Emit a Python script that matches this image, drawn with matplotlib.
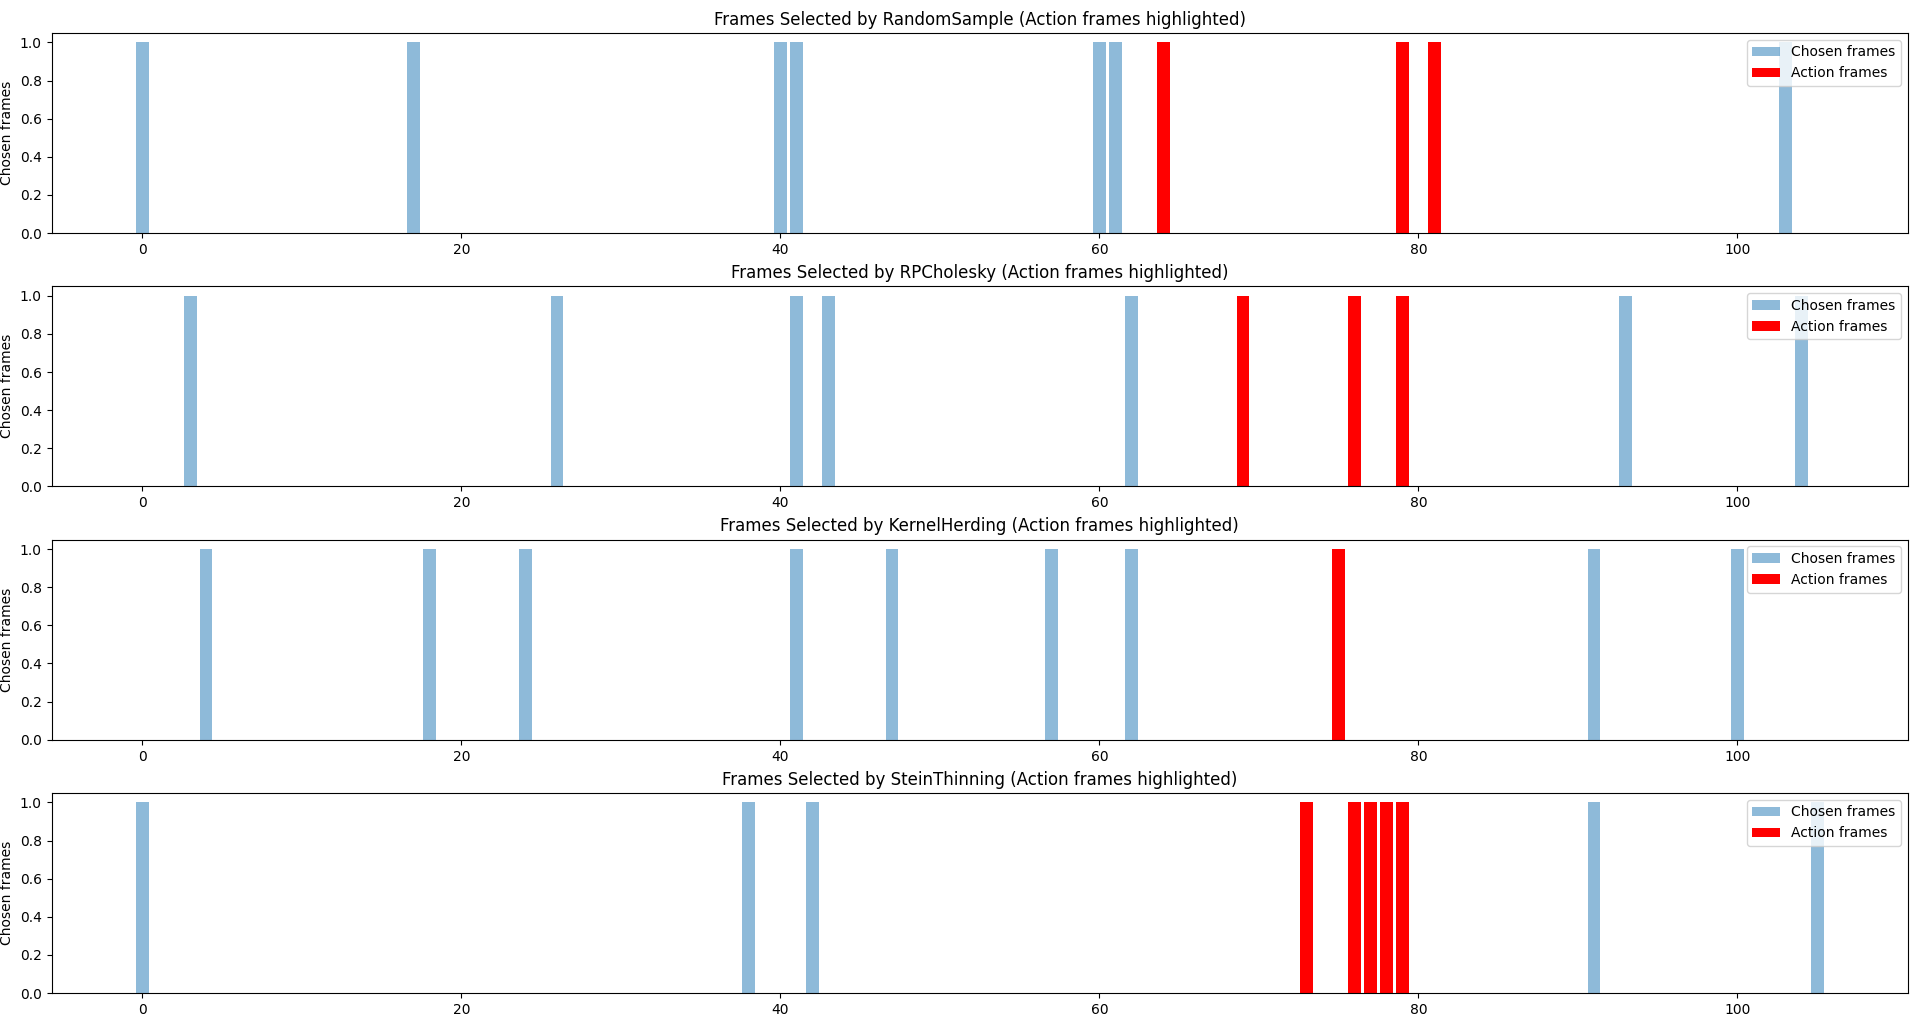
import matplotlib

matplotlib.use("Agg")

import matplotlib.pyplot as plt
import numpy as np


OUTPUT_FILE = "out.png"

N_FRAMES = 106

METHOD_NAMES = [
    "RandomSample",
    "RPCholesky",
    "KernelHerding",
    "SteinThinning",
]

RANDOM_SAMPLE_FRAMES = [0, 17, 40, 41, 60, 61, 64, 79, 81, 103]
RP_CHOLESKY_FRAMES = [3, 26, 41, 43, 62, 69, 76, 79, 93, 104]
KERNEL_HERDING_FRAMES = [4, 18, 24, 41, 47, 57, 62, 75, 91, 100]
STEIN_THINNING_FRAMES = [0, 38, 42, 73, 76, 77, 78, 79, 91, 105]

ACTION_FRAMES = [64, 69, 73, 75, 76, 77, 78, 79, 81]


def frame_mask(frames: list[int]) -> np.ndarray:
    """Turn a list of frame indices into a 0/1 array."""

    mask = np.zeros(N_FRAMES)
    mask[frames] = 1
    return mask


def main() -> None:
    chosen_sets = [
        RANDOM_SAMPLE_FRAMES,
        RP_CHOLESKY_FRAMES,
        KERNEL_HERDING_FRAMES,
        STEIN_THINNING_FRAMES,
    ]

    action_mask = frame_mask(ACTION_FRAMES)
    frame_index = np.arange(N_FRAMES)

    fig, axes = plt.subplots(
        len(METHOD_NAMES),
        1,
        figsize=(19.23, 10.27),
        dpi=100,
    )

    for ax, name, chosen in zip(axes, METHOD_NAMES, chosen_sets):
        chosen_mask = frame_mask(chosen)

        ax.bar(
            frame_index,
            chosen_mask,
            color="C0",
            alpha=0.5,
            label="Chosen frames",
        )

        # Chosen frames that fall inside the action get painted red.
        ax.bar(
            frame_index,
            chosen_mask * action_mask,
            color="red",
            label="Action frames",
        )

        ax.set_title(
            f"Frames Selected by {name} (Action frames highlighted)"
        )
        ax.set_ylabel("Chosen frames")
        ax.legend(loc="upper right")

    fig.subplots_adjust(
        left=0.0268,
        right=0.9922,
        top=0.968,
        bottom=0.033,
        hspace=0.265,
    )

    fig.savefig(OUTPUT_FILE, dpi=100)
    plt.close(fig)


if __name__ == "__main__":
    main()
